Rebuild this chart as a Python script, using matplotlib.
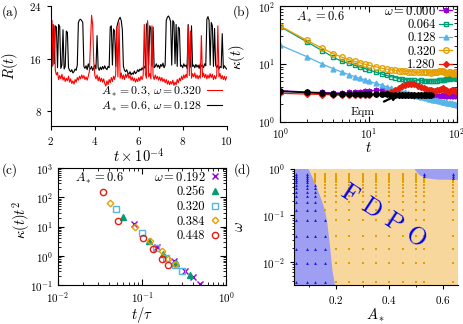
import numpy as np
import matplotlib.pyplot as plt

plt.rcParams['font.family'] = 'serif'
plt.rcParams['font.serif'] = ['cmr10', 'DejaVu Serif']
plt.rcParams['mathtext.fontset'] = 'cm'
plt.rcParams['axes.formatter.use_mathtext'] = True
plt.rcParams['axes.unicode_minus'] = False

PURPLE, GREEN, BLUE, ORANGE, RED = '#9400d3', '#009e73', '#56b4e9', '#e69f00', '#e51e10'
TICK, LAB, LEG = 8, 10.5, 9

# ---- panel (a): R(t), t from 2 to 10 (x 1e4), step 0.05
t_a = np.round(np.arange(2.0, 10.001, 0.05), 2)
R_black = [20.5, 14.8, 21.2, 15.2, 21.0, 20.8, 14.6, 21.2, 20.9, 14.5,
           15.0, 20.4, 14.4, 14.8, 20.2, 20.0, 14.6, 14.2, 14.0, 14.3,
           13.8, 14.0, 14.4, 14.2, 15.0, 21.5, 21.9, 22.0, 21.8, 21.5,
           14.8, 14.5, 14.9, 14.3, 15.2, 14.6, 14.4, 14.8, 14.2, 14.6,
           15.0, 14.4, 19.5, 14.6, 14.2, 14.7, 14.3, 14.8, 14.4, 14.9,
           14.5, 14.3, 14.8, 14.6, 20.8, 21.0, 15.0, 20.5, 20.2, 14.8,
           20.8, 21.5, 22.0, 22.3, 21.8, 20.5, 14.8, 14.2, 14.0, 14.3,
           13.8, 13.6, 14.0, 13.5, 13.8, 13.6, 14.1, 13.7, 13.9, 14.3,
           14.0, 14.4, 14.2, 14.6, 14.3, 14.8, 14.5, 21.2, 21.5, 15.0,
           21.0, 20.6, 14.8, 20.8, 14.6, 14.8, 15.2, 14.7, 15.0, 14.5,
           15.1, 14.8, 15.3, 14.6, 15.0, 21.8, 22.3, 22.5, 22.2, 21.6,
           15.0, 21.8, 21.5, 15.2, 21.2, 14.8, 20.8, 20.6, 14.8, 15.0,
           14.6, 15.2, 14.8, 15.0, 14.5, 21.2, 15.0, 14.7, 21.0, 14.8,
           15.0, 14.6, 15.1, 14.7, 15.0, 14.5, 15.2, 14.8, 15.0, 14.6,
           15.2, 14.9, 22.0, 22.4, 21.8, 15.0, 21.5, 21.0, 14.8, 20.6,
           15.0, 14.6, 15.0, 14.4, 14.8, 14.6, 19.8, 14.5, 14.9, 14.6,
           14.4]
R_red = [14.5, 21.8, 15.0, 21.0, 14.2, 13.5, 13.9, 12.8, 13.4, 12.9,
         13.6, 12.7, 13.2, 12.5, 13.0, 12.6, 13.3, 12.4, 12.9, 12.2,
         12.6, 12.1, 12.8, 12.4, 13.1, 12.7, 13.3, 12.9, 13.5, 13.0,
         13.4, 12.8, 13.2, 12.7, 13.3, 14.0, 18.5, 22.6, 21.2, 15.5,
         13.4, 12.9, 13.5, 12.6, 13.2, 12.5, 13.0, 12.4, 12.9, 12.2,
         11.8, 12.6, 12.0, 12.8, 12.3, 13.1, 12.5, 13.3, 12.8, 13.6,
         20.8, 13.2, 21.5, 13.0, 13.8, 12.9, 13.5, 12.8, 13.6, 13.1,
         13.8, 13.0, 13.4, 12.7, 13.2, 12.6, 13.0, 12.4, 12.9, 12.5,
         13.1, 12.6, 13.3, 12.8, 13.4, 21.2, 13.6, 13.0, 21.8, 13.2,
         13.7, 12.9, 21.0, 13.4, 12.8, 13.5, 12.9, 13.3, 12.7, 13.2,
         12.6, 13.1, 12.5, 12.9, 12.3, 12.8, 12.1, 12.6, 12.0, 12.5,
         12.1, 12.7, 11.9, 12.4, 12.0, 12.8, 12.3, 13.0, 12.6, 13.3,
         12.8, 13.5, 13.0, 13.6, 13.1, 21.0, 13.4, 20.2, 13.0, 13.7,
         13.2, 13.8, 13.0, 13.5, 12.9, 13.4, 13.0, 19.5, 13.2, 13.8,
         13.1, 13.6, 12.9, 13.5, 13.0, 13.7, 13.1, 13.6, 12.8, 13.4,
         12.9, 13.5, 21.0, 13.2, 13.7, 12.9, 13.4, 12.8, 13.3, 12.7,
         13.2]

# ---- panel (b): kappa(t)
t_b = [1, 2, 3, 4, 5, 6, 7, 8, 9, 10, 12, 14, 16, 18, 20, 22, 24, 26, 28, 30,
       33, 36, 39, 42, 45, 48, 51, 54, 57, 60, 63, 66, 69, 72, 75, 78, 81,
       84, 87, 90, 93, 96, 100]
k_w000 = [3.45, 3.25, 3.2, 3.15, 3.15, 3.2, 3.25, 3.3, 3.35, 3.4, 3.5, 3.55,
          3.5, 3.4, 3.2, 3.05, 2.95, 2.9, 2.85, 2.85, 2.8, 2.8, 2.75, 2.8,
          2.85, 2.9, 2.85, 2.8, 2.75, 2.7, 2.75, 2.8, 2.85, 2.8, 2.75, 2.8,
          2.85, 2.8, 2.75, 2.8, 2.85, 2.8, 2.75]
k_w064 = [44, 24, 16.8, 13, 11, 10.2, 9.4, 8.8, 8.3, 7.9, 7.2, 6.7, 6.3, 6.0,
          5.8, 5.55, 5.45, 5.35, 5.3, 5.25, 5.2, 5.15, 5.2, 5.1, 5.05, 5.0,
          5.1, 5.0, 5.05, 5.1, 5.2, 5.3, 5.35, 5.3, 5.4, 5.5, 5.6, 5.5, 5.6,
          5.7, 5.8, 5.6, 5.5]
k_w128 = [21, 13.3, 9.9, 8.2, 7.2, 6.5, 6.0, 5.6, 5.3, 5.0, 4.6, 4.3, 4.0,
          3.8, 3.6, 3.45, 3.3, 3.2, 3.1, 3.0, 2.9, 2.8, 2.7, 2.65, 2.6, 2.5,
          2.45, 2.4, 2.38, 2.33, 2.3, 2.25, 2.22, 2.2, 2.17, 2.14, 2.12, 2.1,
          2.07, 2.05, 2.03, 2.01, 1.98]
k_w320 = [45, 25.5, 18.5, 15, 13, 11.8, 11, 10.4, 9.9, 9.5, 8.9, 8.4, 8.1,
          7.9, 7.7, 7.6, 7.5, 7.4, 7.3, 7.3, 7.2, 7.1, 7.2, 7.3, 7.2, 7.1,
          7.0, 7.1, 7.2, 7.3, 7.4, 7.5, 7.4, 7.2, 7.0, 6.9, 7.1, 7.3, 7.0,
          6.8, 7.0, 7.1, 6.7]
k_w1280 = [3.1, 3.0, 2.95, 2.9, 2.85, 2.85, 2.9, 2.9, 2.95, 2.95, 3.0, 3.0,
           3.1, 3.3, 3.5, 3.8, 4.1, 4.3, 4.45, 4.5, 4.4, 4.2, 4.0, 3.8, 3.7,
           3.6, 3.5, 3.45, 3.4, 3.5, 3.6, 3.7, 3.75, 3.6, 3.5, 3.4, 3.3,
           3.35, 3.5, 3.6, 3.5, 3.4, 3.3]
t_eqm = [1, 2, 3, 4, 5, 6, 7, 8, 9, 10, 12, 14, 16, 18, 20, 22, 24, 26, 28,
         30, 33, 36, 39, 42, 45, 48, 51]
k_eqm = [3.35, 3.2, 3.1, 3.05, 3.0, 3.0, 3.0, 2.98, 2.97, 2.97, 2.96, 2.96,
         2.96, 2.95, 2.95, 2.95, 2.95, 2.95, 2.95, 2.95, 2.95, 2.95, 2.95,
         2.95, 2.95, 2.95, 2.95]

# ---- panel (c): scaled kappa(t) t^2 vs t/tau
x_192 = [0.080, 0.149, 0.240, 0.320, 0.400, 0.480]
y_192 = [12.0, 2.0, 0.68, 0.32, 0.19, 0.115]
x_256 = [0.060, 0.120, 0.178, 0.249, 0.368]
y_256 = [21.4, 3.2, 1.2, 0.58, 0.22]
x_320 = [0.0486, 0.0986, 0.146, 0.190, 0.245, 0.294]
y_320 = [41.0, 6.1, 1.87, 0.855, 0.48, 0.32]
x_384 = [0.0416, 0.0822, 0.124, 0.170, 0.204, 0.245]
y_384 = [65.8, 9.75, 3.16, 1.44, 0.81, 0.55]
x_448 = [0.0341, 0.0523, 0.103, 0.136, 0.173, 0.204]
y_448 = [151.0, 15.6, 4.2, 1.69, 0.81, 0.48]

# ---- panel (d): phase diagram
A_grid = [0.05, 0.09, 0.12, 0.16, 0.2, 0.25, 0.3, 0.35, 0.4, 0.45, 0.5, 0.53, 0.64]
w_grid = [0.0037, 0.0096, 0.019, 0.037, 0.08, 0.128, 0.192, 0.256, 0.32,
          0.384, 0.448, 0.512, 0.576, 0.64, 0.704, 0.768]
# omega values classed as periodic (blue) for each A column
w_blue = {0.05: w_grid, 0.09: w_grid, 0.12: w_grid[:11],
          0.16: w_grid[:5], 0.53: [0.704, 0.768], 0.64: [0.64, 0.704, 0.768]}
# phase boundaries
bnd_left_A = [0.042, 0.0955, 0.121, 0.14, 0.158, 0.167, 0.177, 0.186, 0.196, 0.042]
bnd_left_w = [1.02, 1.02, 0.5, 0.26, 0.133, 0.069, 0.022, 0.0068, 0.00316, 0.00316]
bnd_right_A = [0.492, 0.511, 0.536, 0.58, 0.66, 0.66]
bnd_right_w = [1.02, 0.743, 0.63, 0.59, 0.58, 1.02]

fig = plt.figure(figsize=(4.63, 3.24), dpi=100)

# ================= (a)
ax = fig.add_axes([0.110, 0.611, 0.3795, 0.370])
ax.plot(t_a, R_black, color='k', lw=0.8, label=r'$A_* = 0.6,\, \omega = 0.128$')
ax.plot(t_a, R_red, color='red', lw=0.8, label=r'$A_* = 0.3,\, \omega = 0.320$')
ax.set_xlim(2, 10)
ax.set_ylim(5.7, 24)
ax.set_xticks([2, 4, 6, 8, 10])
ax.set_yticks([8, 16, 24])
ax.spines['top'].set_visible(False)
ax.spines['right'].set_visible(False)
ax.tick_params(direction='out', labelsize=TICK, length=3)
ax.set_xlabel(r'$t\times 10^{-4}$', fontsize=LAB)
ax.set_ylabel(r'$R(t)$', fontsize=LAB)
ax.xaxis.set_label_coords(0.5, -0.17)
ax.yaxis.set_label_coords(-0.175, 0.5)
h, l = ax.get_legend_handles_labels()
ax.legend(h[::-1], l[::-1], loc='lower right', bbox_to_anchor=(1.0, 0.07),
          frameon=False, markerfirst=False, fontsize=8.5, handlelength=1.3,
          handletextpad=0.4, labelspacing=0.1, borderaxespad=0)

# ================= (b)
ax = fig.add_axes([0.6054, 0.6244, 0.3816, 0.357])
ax.set_xscale('log')
ax.set_yscale('log')
ax.plot(t_b, k_w000, color=PURPLE, marker=(8, 2, 0), ms=4, lw=0.9, label=r'$\omega = 0.000$')
ax.plot(t_b, k_w064, color=GREEN, marker='s', mfc='none', ms=3.5, lw=0.9, label='0.064')
ax.plot(t_b, k_w128, color=BLUE, marker='^', ms=3.5, lw=0.9, label='0.128')
ax.plot(t_b, k_w320, color=ORANGE, marker='o', mfc='none', ms=4, lw=0.9, label='0.320')
ax.plot(t_b, k_w1280, color=RED, marker='D', ms=3, lw=0.9, label='1.280')
ax.plot(t_eqm, k_eqm, color='k', marker=(8, 2, 0), ms=4.5, mew=1.3, lw=1.2)
ax.annotate('Eqm', xy=(22, 2.95), xytext=(8.6, 1.5), fontsize=TICK + 0.5,
            ha='center', va='center',
            arrowprops=dict(arrowstyle='-|>', color='k', lw=1.6, shrinkA=5, shrinkB=0,
                            mutation_scale=9))
ax.set_xlim(1, 100)
ax.set_ylim(1, 100)
ax.tick_params(which='both', direction='in', top=True, right=True, labelsize=TICK)
ax.tick_params(which='major', length=4)
ax.tick_params(which='minor', length=2)
ax.set_xlabel(r'$t$', fontsize=LAB)
ax.set_ylabel(r'$\kappa(t)$', fontsize=LAB)
ax.xaxis.set_label_coords(0.5, -0.17)
ax.yaxis.set_label_coords(-0.19, 0.56)
ax.text(0.09, 0.9, r'$A_* = 0.6$', transform=ax.transAxes, fontsize=LEG, va='center')
ax.legend(loc='upper right', bbox_to_anchor=(1.0, 1.055), frameon=False,
          markerfirst=False, fontsize=LEG, handlelength=1.0, handletextpad=0.3,
          labelspacing=0.1, borderaxespad=0)

# ================= (c)
ax = fig.add_axes([0.1246, 0.1194, 0.3646, 0.362])
ax.set_xscale('log')
ax.set_yscale('log')
ax.plot(x_192, y_192, ls='none', color=PURPLE, marker='x', ms=4, label=r'$\omega = 0.192$')
ax.plot(x_256, y_256, ls='none', color=GREEN, marker='^', ms=4, label='0.256')
ax.plot(x_320, y_320, ls='none', color=BLUE, marker='s', mfc='none', ms=4, label='0.320')
ax.plot(x_384, y_384, ls='none', color=ORANGE, marker='D', mfc='none', ms=3.3, label='0.384')
ax.plot(x_448, y_448, ls='none', color=RED, marker='o', mfc='none', ms=4.5, label='0.448')
ax.set_xlim(0.01, 1)
ax.set_ylim(0.1, 1000)
ax.tick_params(which='both', direction='in', top=True, right=True, labelsize=TICK)
ax.tick_params(which='major', length=4)
ax.tick_params(which='minor', length=2)
ax.set_xlabel(r'$t/\tau$', fontsize=LAB)
ax.set_ylabel(r'$\kappa(t)t^2$', fontsize=LAB)
ax.xaxis.set_label_coords(0.5, -0.17)
ax.yaxis.set_label_coords(-0.15, 0.56)
ax.text(0.10, 0.91, r'$A_* = 0.6$', transform=ax.transAxes, fontsize=LEG, va='center')
ax.legend(loc='upper right', bbox_to_anchor=(1.0, 1.02), frameon=False,
          markerfirst=False, fontsize=LEG, handlelength=1.0, handletextpad=0.3,
          labelspacing=0.2, borderaxespad=0)

# ================= (d)
ax = fig.add_axes([0.635, 0.1194, 0.354, 0.3605])
ax.set_yscale('log')
ax.set_facecolor('#f7d79c')
ax.fill(bnd_left_A, bnd_left_w, color='#9e9ef2', lw=0)
ax.fill(bnd_right_A, bnd_right_w, color='#9e9ef2', lw=0)
for a in A_grid:
    blue = w_blue.get(a, [])
    w_o = [w for w in w_grid if w not in blue]
    ax.plot([a] * len(w_o), w_o, ls='none', marker='s', ms=1.7, mew=0, color=ORANGE)
    ax.plot([a] * len(blue), blue, ls='none', marker='^', ms=2, mew=0, color='#1010ee')
ax.text(0.545, 0.585, 'F D P O', transform=ax.transAxes, rotation=-33,
        fontsize=18, color='#0000ee', ha='center', va='center')
ax.set_xlim(0.042, 0.657)
ax.set_ylim(0.00316, 1.02)
ax.set_xticks([0.2, 0.4, 0.6])
ax.set_xticks([0.1, 0.3, 0.5], minor=True)
ax.spines['top'].set_visible(False)
ax.spines['right'].set_visible(False)
ax.tick_params(which='both', direction='out', labelsize=TICK)
ax.tick_params(which='major', length=3)
ax.tick_params(which='minor', length=1.5)
ax.set_xlabel(r'$A_*$', fontsize=LAB)
ax.set_ylabel(r'$\omega$', fontsize=LAB)
ax.xaxis.set_label_coords(0.5, -0.185)
ax.yaxis.set_label_coords(-0.29, 0.5)

fig.text(0.022, 0.963, '(a)', fontsize=9.5, ha='center', va='center')
fig.text(0.521, 0.963, '(b)', fontsize=9.5, ha='center', va='center')
fig.text(0.022, 0.475, '(c)', fontsize=9.5, ha='center', va='center')
fig.text(0.523, 0.475, '(d)', fontsize=9.5, ha='center', va='center')

fig.savefig('out.png', dpi=100)
